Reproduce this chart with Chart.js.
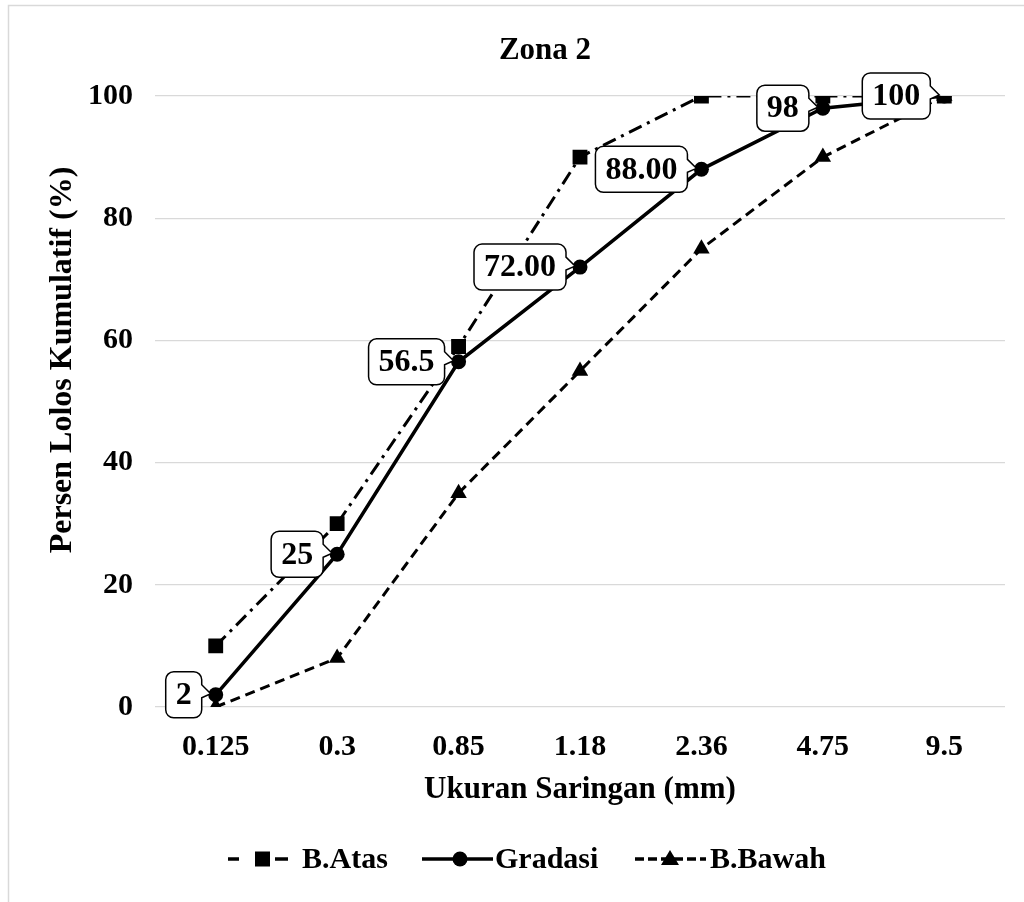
<!DOCTYPE html>
<html><head><meta charset="utf-8">
<script src="https://cdn.jsdelivr.net/npm/chart.js@4"></script>
<style>html,body{margin:0;padding:0;background:#fff;overflow:hidden;} #wrap{width:1024px;height:902px;position:relative;}</style>
</head><body><div id="wrap"><canvas id="c" width="1024" height="902"></canvas></div>
<script>
const categories = ['0.125','0.3','0.85','1.18','2.36','4.75','9.5'];
const bAtas = [10,30,59,90,100,100,100];
const gradasi = [2,25,56.5,72,88,98,100];
const bBawah = [0,8,35,55,75,90,100];
const gradasiLabels = ['2','25','56.5','72.00','88.00','98','100'];
const yTicks = [0,20,40,60,80,100];
const chartTitle = 'Zona 2';
const xTitle = 'Ukuran Saringan (mm)';
const yTitle = 'Persen Lolos Kumulatif (%)';
const seriesNames = ['B.Atas','Gradasi','B.Bawah'];

const FONT = '"Liberation Serif", "Times New Roman", serif';

function roundedCallout(ctx, left, top, w, h, r, px, py){
  const right = left + w, bottom = top + h, cy = py;
  ctx.beginPath();
  ctx.moveTo(left + r, top);
  ctx.lineTo(right - r, top);
  ctx.arcTo(right, top, right, top + r, r);
  ctx.lineTo(right, Math.max(top + r, cy - 10));
  ctx.lineTo(right + 9, cy - 1);
  ctx.lineTo(right, cy + 3);
  ctx.lineTo(right, bottom - r);
  ctx.arcTo(right, bottom, right - r, bottom, r);
  ctx.lineTo(left + r, bottom);
  ctx.arcTo(left, bottom, left, bottom - r, r);
  ctx.lineTo(left, top + r);
  ctx.arcTo(left, top, left + r, top, r);
  ctx.closePath();
}

const decorPlugin = {
  id: 'decor',
  beforeDraw(chart){
    const ctx = chart.ctx;
    ctx.save();
    ctx.fillStyle = '#fff';
    ctx.fillRect(0,0,chart.width,chart.height);
    ctx.strokeStyle = '#d9d9d9';
    ctx.lineWidth = 1.5;
    ctx.strokeRect(8.5, 5.5, 1200, 1200);
    ctx.restore();
  },
  afterDatasetsDraw(chart){
    const ctx = chart.ctx;
    const meta = chart.getDatasetMeta(1);
    ctx.save();
    ctx.font = 'bold 32px ' + FONT;
    meta.data.forEach((pt, i) => {
      const txt = gradasiLabels[i];
      const tw = ctx.measureText(txt).width;
      const w = tw + 20, h = 46;
      const right = pt.x - 14;
      const left = right - w;
      const top = pt.y - h/2;
      roundedCallout(ctx, left, top, w, h, 8, pt.x, pt.y);
      ctx.fillStyle = '#fff';
      ctx.fill();
      ctx.strokeStyle = '#000';
      ctx.lineWidth = 1.5;
      ctx.setLineDash([]);
      ctx.stroke();
      ctx.fillStyle = '#000';
      ctx.textAlign = 'center';
      ctx.textBaseline = 'middle';
      ctx.fillText(txt, left + w/2, pt.y + 1);
    });
    ctx.restore();
  },
  afterDraw(chart){
    const ctx = chart.ctx;
    ctx.save();
    ctx.fillStyle = '#000';
    ctx.font = 'bold 31px ' + FONT;
    ctx.textAlign = 'center';
    ctx.textBaseline = 'middle';
    ctx.fillText(chartTitle, 545, 51);
    ctx.save();
    ctx.translate(63, 360);
    ctx.rotate(-Math.PI/2);
    ctx.font = 'bold 32px ' + FONT;
    ctx.fillText(yTitle, 0, 0);
    ctx.restore();
    const ly = 859;
    ctx.strokeStyle = '#000';
    ctx.fillStyle = '#000';
    ctx.lineWidth = 3.5;
    ctx.setLineDash([]);
    ctx.beginPath(); ctx.moveTo(228, ly); ctx.lineTo(239, ly); ctx.stroke();
    ctx.beginPath(); ctx.moveTo(275, ly); ctx.lineTo(288, ly); ctx.stroke();
    ctx.fillRect(255, ly-7.5, 15, 15);
    ctx.beginPath(); ctx.moveTo(422, ly); ctx.lineTo(493, ly); ctx.stroke();
    ctx.beginPath(); ctx.arc(460, ly, 7.5, 0, Math.PI*2); ctx.fill();
    ctx.setLineDash([9,4]);
    ctx.beginPath(); ctx.moveTo(635, ly); ctx.lineTo(706, ly); ctx.stroke();
    ctx.setLineDash([]);
    ctx.beginPath(); ctx.moveTo(670, ly-9); ctx.lineTo(679, ly+6); ctx.lineTo(661, ly+6); ctx.closePath(); ctx.fill();
    ctx.font = 'bold 30px ' + FONT;
    ctx.textAlign = 'left';
    ctx.textBaseline = 'middle';
    ctx.fillText(seriesNames[0], 302, ly + 1);
    ctx.fillText(seriesNames[1], 495, ly + 1);
    ctx.fillText(seriesNames[2], 710, ly + 1);
    ctx.restore();
  }
};

new Chart(document.getElementById('c'), {
  type: 'line',
  data: {
    labels: categories,
    datasets: [
      { label: seriesNames[0], data: bAtas, borderColor: '#000', backgroundColor: '#000',
        borderWidth: 3, borderDash: [14,6,3,6], pointStyle: 'rect', pointRadius: 10.5,
        pointBorderWidth: 0, tension: 0, fill: false },
      { label: seriesNames[1], data: gradasi, borderColor: '#000', backgroundColor: '#000',
        borderWidth: 3.5, pointStyle: 'circle', pointRadius: 7.5,
        pointBorderWidth: 0, tension: 0, fill: false },
      { label: seriesNames[2], data: bBawah, borderColor: '#000', backgroundColor: '#000',
        borderWidth: 3, borderDash: [10,6], pointStyle: 'triangle', pointRadius: 9.5,
        pointBorderWidth: 0, tension: 0, fill: false }
    ]
  },
  options: {
    responsive: false,
    animation: false,
    devicePixelRatio: 1,
    layout: { padding: { top: 96, left: 0, right: 19, bottom: 85 } },
    plugins: { legend: { display: false }, title: { display: false }, tooltip: { enabled: false } },
    scales: {
      x: {
        offset: true,
        grid: { display: false, drawTicks: false },
        border: { display: false },
        ticks: { color: '#000', font: { family: FONT, size: 30, weight: 'bold' }, padding: 22, maxRotation: 0 },
        title: { display: true, text: xTitle, color: '#000', font: { family: FONT, size: 31, weight: 'bold' }, padding: { top: 0, bottom: 8 } },
        afterFit(scale){ scale.height = 110; }
      },
      y: {
        min: 0, max: 100,
        grid: { color: '#d9d9d9', lineWidth: 1.3, drawTicks: false },
        border: { display: false },
        ticks: { color: '#000', font: { family: FONT, size: 30, weight: 'bold' }, padding: 22, stepSize: 20 },
        afterBuildTicks(scale){ scale.ticks = yTicks.map(v => ({ value: v })); },
        afterFit(scale){ scale.width = 155; }
      }
    }
  },
  plugins: [decorPlugin]
});
</script>
</body></html>
